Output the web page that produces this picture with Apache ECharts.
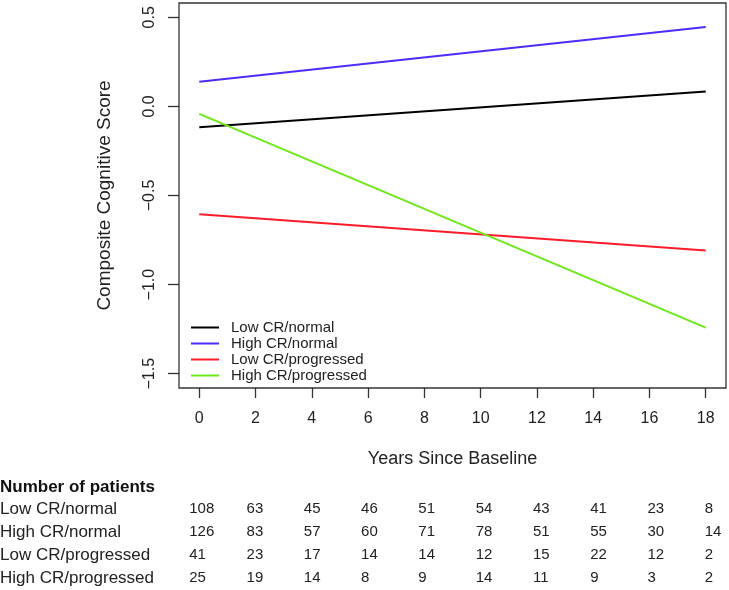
<!DOCTYPE html>
<html>
<head>
<meta charset="utf-8">
<script src="https://cdn.jsdelivr.net/npm/echarts@6/dist/echarts.min.js"></script>
<style>html,body{margin:0;padding:0;background:#fff;}#c{width:729px;height:590px;}</style>
</head>
<body>
<div id="c"></div>
<script>
// ---- data ----
var groups = ['Low CR/normal', 'High CR/normal', 'Low CR/progressed', 'High CR/progressed'];
var years = [0, 18];
var lowNormal = [-0.117, 0.084];
var highNormal = [0.138, 0.446];
var lowProgressed = [-0.605, -0.808];
var highProgressed = [-0.042, -1.241];
var xTicks = [0, 2, 4, 6, 8, 10, 12, 14, 16, 18];
var yTicks = [-1.5, -1.0, -0.5, 0.0, 0.5];
var nLowNormal = [108, 63, 45, 46, 51, 54, 43, 41, 23, 8];
var nHighNormal = [126, 83, 57, 60, 71, 78, 51, 55, 30, 14];
var nLowProgressed = [41, 23, 17, 14, 14, 12, 15, 22, 12, 2];
var nHighProgressed = [25, 19, 14, 8, 9, 14, 11, 9, 3, 2];
var tableTitle = 'Number of patients';

var FONT = "'Liberation Sans', Arial, Helvetica, sans-serif";
var colors = ['#000000', '#4a2cff', '#ff1a2a', '#6ee81a'];
var seriesVals = [lowNormal, highNormal, lowProgressed, highProgressed];

function pairs(v) { return years.map(function (y, i) { return [y, v[i]]; }); }

var chart = echarts.init(document.getElementById('c'), null, { renderer: 'canvas' });
var option = {
  animation: false,
  backgroundColor: '#fff',
  grid: { left: 179, top: 3, width: 547, height: 385, show: true, borderColor: '#333', borderWidth: 1.3, backgroundColor: 'transparent' },
  xAxis: {
    type: 'value', min: -0.72, max: 18.72,
    name: 'Years Since Baseline', nameLocation: 'middle', nameGap: 62,
    nameTextStyle: { fontFamily: FONT, fontSize: 18, color: '#222' },
    axisLine: { show: false, onZero: false },
    splitLine: { show: false },
    axisTick: { show: true, customValues: xTicks, length: 10, inside: false, lineStyle: { color: '#333', width: 1.3 } },
    axisLabel: { customValues: xTicks, margin: 23, fontFamily: FONT, fontSize: 16, color: '#222' }
  },
  yAxis: {
    type: 'value', min: -1.58, max: 0.58,
    name: 'Composite Cognitive Score', nameLocation: 'middle', nameGap: 65,
    nameTextStyle: { fontFamily: FONT, fontSize: 19, color: '#222' },
    axisLine: { show: false, onZero: false },
    splitLine: { show: false },
    axisTick: { show: true, customValues: yTicks, length: 11, lineStyle: { color: '#333', width: 1.3 } },
    axisLabel: {
      customValues: yTicks, rotate: 90, margin: 21, fontFamily: FONT, fontSize: 16, color: '#222',
      formatter: function (v) { return (v < 0 ? '\u2212' : '') + Math.abs(v).toFixed(1); }
    }
  },
  legend: {
    data: groups, orient: 'vertical', left: 186, top: 315,
    icon: 'rect', itemWidth: 28, itemHeight: 2, itemGap: 1,
    textStyle: { fontFamily: FONT, fontSize: 15, lineHeight: 15, color: '#222', padding: [0, 0, 0, 7] }
  },
  series: groups.map(function (g, i) {
    return {
      name: g, type: 'line', data: pairs(seriesVals[i]), showSymbol: false, symbol: 'none',
      lineStyle: { color: colors[i], width: 2 }, itemStyle: { color: colors[i] }
    };
  })
};
chart.setOption(option);

// ---- patient count table, columns placed through the x axis scale ----
var counts = [nLowNormal, nHighNormal, nLowProgressed, nHighProgressed];
var rowY = [509, 532, 555, 578];
var els = [];
els.push({ type: 'text', style: { x: 0, y: 487, text: tableTitle, font: 'bold 17px ' + FONT, fill: '#111', verticalAlign: 'middle' } });
groups.forEach(function (g, r) {
  els.push({ type: 'text', style: { x: 0, y: rowY[r], text: g, font: '17px ' + FONT, fill: '#222', verticalAlign: 'middle' } });
  counts[r].forEach(function (n, i) {
    var px = chart.convertToPixel({ xAxisIndex: 0 }, xTicks[i]) - 10 + i;
    els.push({ type: 'text', style: { x: px, y: rowY[r], text: String(n), font: '15px ' + FONT, fill: '#222', align: 'left', verticalAlign: 'middle' } });
  });
});
chart.setOption({ graphic: { elements: els } });
</script>
</body>
</html>
